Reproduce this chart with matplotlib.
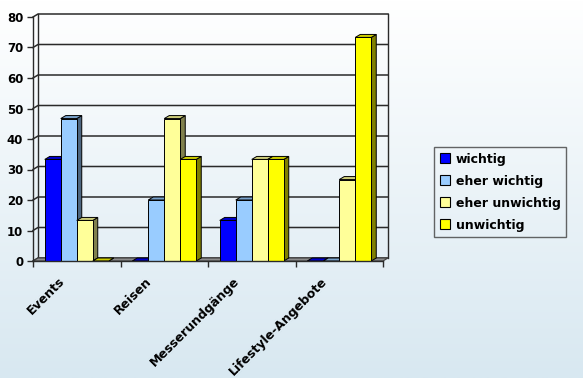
import matplotlib
matplotlib.use("Agg")
import matplotlib.pyplot as plt
import numpy as np
from matplotlib.patches import Polygon, Patch
from matplotlib.colors import LinearSegmentedColormap, to_rgb

# data (percent of answers)
categories = ["Events", "Reisen", "Messerundgänge", "Lifestyle-Angebote"]
series_names = ["wichtig", "eher wichtig", "eher unwichtig", "unwichtig"]
wichtig = [33.3, 0.0, 13.3, 0.0]
eher_wichtig = [46.7, 20.0, 20.0, 0.0]
eher_unwichtig = [13.3, 46.7, 33.3, 26.7]
unwichtig = [0.0, 33.3, 33.3, 73.3]
y_ticks = [0, 10, 20, 30, 40, 50, 60, 70, 80]

series = [wichtig, eher_wichtig, eher_unwichtig, unwichtig]
colors = ["#0000ff", "#99ccff", "#ffff99", "#ffff00"]


def shade(c, f):
    r, g, b = to_rgb(c)
    return (r * f, g * f, b * f)


W, H = 583, 378
fig = plt.figure(figsize=(W / 100, H / 100), dpi=100)

# background gradient
bg = fig.add_axes([0, 0, 1, 1], zorder=-10)
grad = np.linspace(0, 1, 256)[:, None]
cmap = LinearSegmentedColormap.from_list("bg", ["#ffffff", "#d8e8f1"])
bg.imshow(grad, aspect="auto", cmap=cmap, extent=[0, 1, 0, 1])
bg.axis("off")

# front plot area in pixels
left_px, right_px, top_px, bottom_px = 33, 383, 17, 261
ax = fig.add_axes([left_px / W, 1 - bottom_px / H,
                   (right_px - left_px) / W, (bottom_px - top_px) / H])
ax.set_xlim(-0.5, 3.5)
ax.set_ylim(0, 80)
ax.patch.set_alpha(0)

px_per_cat = (right_px - left_px) / 4
px_per_unit = (bottom_px - top_px) / 80
dx = 5 / px_per_cat
dy = 3 / px_per_unit
w = 16 / px_per_cat

x0, x1 = -0.5, 3.5
line_c = "#2a2a2a"

# floor
ax.add_patch(Polygon([(x0, 0), (x1, 0), (x1 + dx, dy), (x0 + dx, dy)],
                     closed=True, facecolor="#8c8c8c", edgecolor="#404040",
                     lw=0.8, zorder=1, clip_on=False))

# back wall grid
for v in y_ticks:
    ax.plot([x0, x0 + dx, x1 + dx], [v, v + dy, v + dy], color=line_c,
            lw=1.1, zorder=0.5, clip_on=False)
ax.plot([x0 + dx, x0 + dx], [dy, 80 + dy], color=line_c, lw=1.0,
        zorder=0.5, clip_on=False)
ax.plot([x1 + dx, x1 + dx], [dy, 80 + dy], color=line_c, lw=1.0,
        zorder=0.5, clip_on=False)

# 3d bars
k = 0
for i in range(len(categories)):
    for j, vals in enumerate(series):
        v = vals[i]
        left = i + (j - 1.5) * w - w / 2
        z = 2 + k * 0.01
        k += 1
        c = colors[j]
        ax.add_patch(Polygon([(left + w, 0), (left + w + dx, dy),
                              (left + w + dx, v + dy), (left + w, v)],
                             closed=True, facecolor=shade(c, 0.5),
                             edgecolor="black", lw=0.7, zorder=z, clip_on=False))
        ax.add_patch(Polygon([(left, v), (left + w, v), (left + w + dx, v + dy),
                              (left + dx, v + dy)],
                             closed=True, facecolor=shade(c, 0.8),
                             edgecolor="black", lw=0.7, zorder=z, clip_on=False))
        if v > 0:
            ax.bar(left, v, width=w, align="edge", color=c, edgecolor="black",
                   lw=0.7, zorder=z + 0.001, clip_on=False)

for s in ["top", "right"]:
    ax.spines[s].set_visible(False)
for s in ["left", "bottom"]:
    ax.spines[s].set_color(line_c)
    ax.spines[s].set_linewidth(1.0)
    ax.spines[s].set_zorder(5)

ax.set_yticks(y_ticks)
ax.set_yticklabels([str(t) for t in y_ticks], fontsize=8.5, fontweight="bold")
ax.tick_params(axis="y", direction="out", length=4, width=1, pad=3, colors=line_c,
               labelcolor="black")
ax.set_xticks([])
ax.set_xticks(np.arange(-0.5, 4.0, 1.0), minor=True)
ax.tick_params(axis="x", which="minor", direction="out", length=4, width=1,
               colors=line_c)

for i, name in enumerate(categories):
    ax.annotate(name, xy=(i, 0), xytext=(-19, -14), textcoords="offset pixels",
                rotation=45, ha="right", va="top", rotation_mode="anchor",
                fontsize=9, fontweight="bold")

handles = [Patch(facecolor=c, edgecolor="black", lw=0.8) for c in colors]
leg = fig.legend(handles, series_names, loc="upper left",
                 bbox_to_anchor=(434 / W, 1 - 147 / H), frameon=True,
                 fancybox=False, edgecolor="#404040", facecolor="none",
                 prop={"size": 9, "weight": "bold"}, handlelength=0.8,
                 handleheight=0.8, handletextpad=0.5, labelspacing=0.72,
                 borderpad=0.45, borderaxespad=0)
leg.get_frame().set_linewidth(1.0)

fig.savefig("out.png", dpi=100)
